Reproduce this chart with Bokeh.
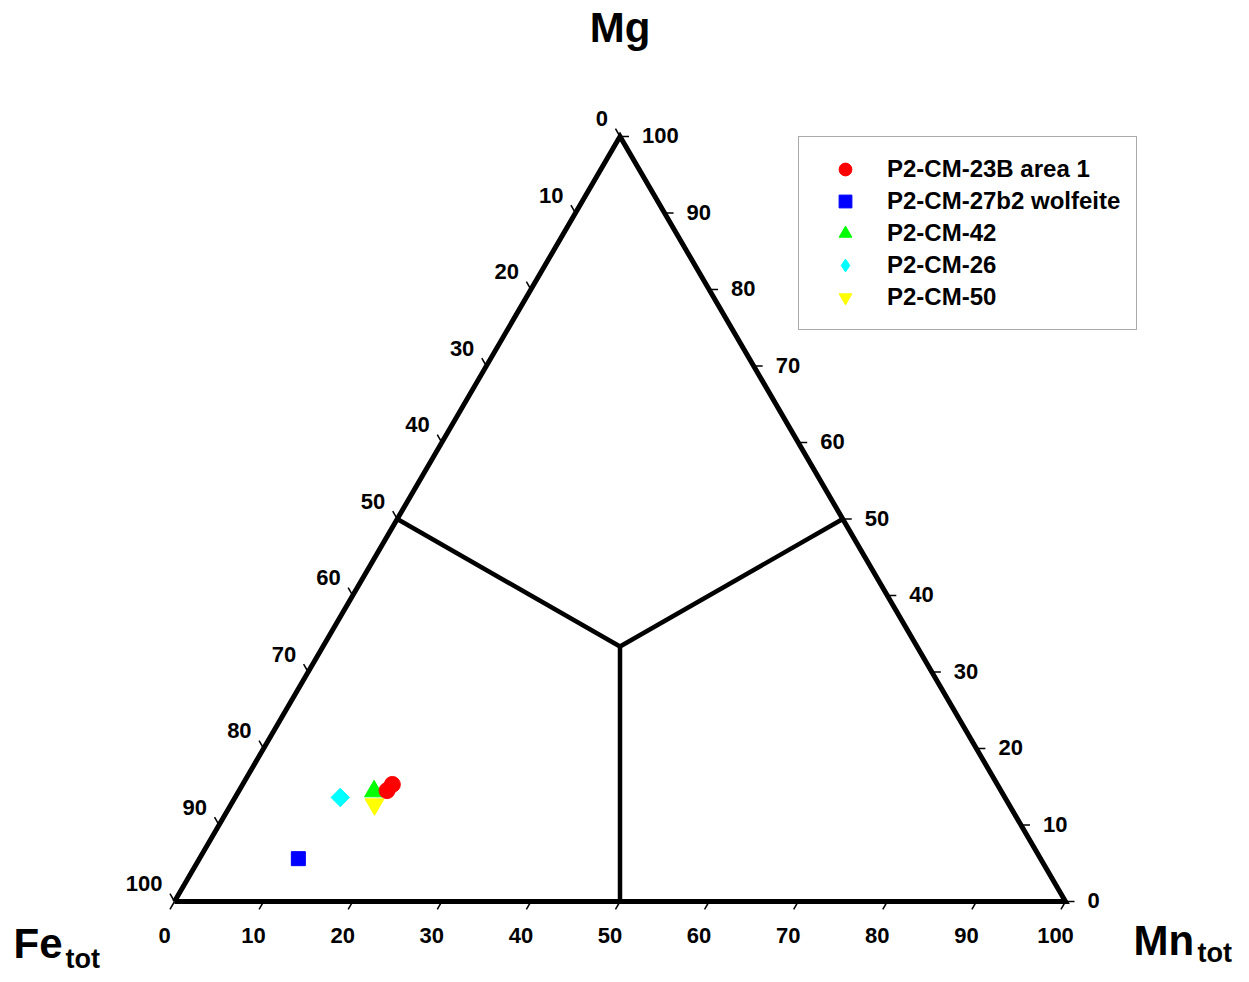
import numpy as np
from bokeh.plotting import figure
from bokeh.models import Legend, LegendItem, Range1d
from bokeh.core.properties import value
from bokeh.embed import file_html
from bokeh.resources import INLINE

# ---------------- data (Fe, Mn, Mg in %) ----------------
series_names = ["P2-CM-23B area 1", "P2-CM-27b2 wolfeite", "P2-CM-42", "P2-CM-26", "P2-CM-50"]
series_colors = ["#FF0000", "#0000FF", "#00FF00", "#00FFFF", "#FFFF00"]

fe_23b = [67.9, 68.9]
mn_23b = [16.8, 16.6]
mg_23b = [15.3, 14.5]

fe_27b2 = [83.3]
mn_27b2 = [11.1]
mg_27b2 = [5.6]

fe_42 = [70.4]
mn_42 = [15.2]
mg_42 = [14.4]

fe_26 = [74.6]
mn_26 = [11.8]
mg_26 = [13.6]

fe_50 = [71.2]
mn_50 = [16.1]
mg_50 = [12.7]

tick_values = [0, 10, 20, 30, 40, 50, 60, 70, 80, 90, 100]
tick_labels = [str(t) for t in tick_values]
title_main = ["Fe", "Mn", "Mg"]
title_sub = "tot"

FONT = value("Liberation Sans")
R3 = np.sqrt(3) / 2


def tern(fe, mn, mg):
    fe = np.asarray(fe, float)
    mn = np.asarray(mn, float)
    mg = np.asarray(mg, float)
    s = fe + mn + mg
    x = 100 * (mn + mg / 2) / s
    y = 100 * mg * R3 / s
    return x, y


# pixel layout of the triangle
W, H = 1249, 982
PXL, PXR, PYB, PYT = 174, 1065, 901, 136
sx = (PXR - PXL) / 100.0
sy = (PYB - PYT) / (100 * R3)

p = figure(width=W, height=H, output_backend="svg", toolbar_location=None,
           x_range=Range1d(-PXL / sx, (W - PXL) / sx),
           y_range=Range1d(-(H - PYB) / sy, PYB / sy),
           min_border=0, x_axis_location=None, y_axis_location=None,
           outline_line_color=None, background_fill_color="white",
           border_fill_color="white")
p.xgrid.visible = False
p.ygrid.visible = False

# triangle frame
vx, vy = tern([100, 0, 0, 100], [0, 100, 0, 0], [0, 0, 100, 0])
p.line(vx, vy, line_color="black", line_width=5, line_join="miter")

# inner boundary lines (centroid to edge midpoints)
cx, cy = tern([1 / 3] * 3, [1 / 3] * 3, [1 / 3] * 3)
mx, my = tern([50, 0, 50], [0, 50, 50], [50, 50, 0])
p.segment(x0=cx, y0=cy, x1=mx, y1=my, line_color="black", line_width=4.5)

t = np.array(tick_values, float)
zero = np.zeros_like(t)
ang_left_edge = np.degrees(np.arctan2(PYB - PYT, (PXR - PXL) / 2))

# bottom axis (Mn)
bx, by = tern(100 - t, t, zero)
p.ray(x=bx, y=by, length=9, length_units="screen", angle=ang_left_edge + 180,
      angle_units="deg", line_color="black", line_width=1.5)
p.text(x=bx, y=by, text=tick_labels, x_offset=-10, y_offset=34,
       text_align="center", text_baseline="middle", text_font=FONT,
       text_font_style="bold", text_font_size="22px", text_color="black")

# left axis (Fe)
lx, ly = tern(t, zero, 100 - t)
p.ray(x=lx, y=ly, length=9, length_units="screen", angle=180 - ang_left_edge,
      angle_units="deg", line_color="black", line_width=1.5)
p.text(x=lx, y=ly, text=tick_labels, x_offset=-12, y_offset=-18,
       text_align="right", text_baseline="middle", text_font=FONT,
       text_font_style="bold", text_font_size="22px", text_color="black")

# right axis (Mg)
rx, ry = tern(zero, 100 - t, t)
p.ray(x=rx, y=ry, length=9, length_units="screen", angle=0,
      angle_units="deg", line_color="black", line_width=1.5)
p.text(x=rx, y=ry, text=tick_labels, x_offset=22, y_offset=-1,
       text_align="left", text_baseline="middle", text_font=FONT,
       text_font_style="bold", text_font_size="22px", text_color="black")

# axis titles
p.text(x=[vx[0]], y=[vy[0]], text=[title_main[0]], x_offset=-161, y_offset=42,
       text_align="left", text_baseline="alphabetic", text_font=FONT,
       text_font_style="bold", text_font_size="42px")
p.text(x=[vx[0]], y=[vy[0]], text=[title_sub], x_offset=-109, y_offset=57,
       text_align="left", text_baseline="alphabetic", text_font=FONT,
       text_font_style="bold", text_font_size="27px")
p.text(x=[vx[1]], y=[vy[1]], text=[title_main[1]], x_offset=68, y_offset=39,
       text_align="left", text_baseline="alphabetic", text_font=FONT,
       text_font_style="bold", text_font_size="42px")
p.text(x=[vx[1]], y=[vy[1]], text=[title_sub], x_offset=132, y_offset=51,
       text_align="left", text_baseline="alphabetic", text_font=FONT,
       text_font_style="bold", text_font_size="27px")
p.text(x=[vx[2]], y=[vy[2]], text=[title_main[2]], x_offset=0, y_offset=-109,
       text_align="center", text_baseline="alphabetic", text_font=FONT,
       text_font_style="bold", text_font_size="42px")

# data points
x, y = tern(fe_50, mn_50, mg_50)
r_50 = p.scatter(x, y, marker="inverted_triangle", size=19, fill_color=series_colors[4],
                 line_color=series_colors[4])
x26, y26 = tern(fe_26, mn_26, mg_26)
p.scatter(x26, y26, marker="square", angle=np.pi / 4, size=13, fill_color=series_colors[3],
          line_color=series_colors[3])
# diamond glyph for the legend entry (size 0 in the plot; legend sets its own size)
r_26 = p.scatter(x26, y26, marker="diamond", size=0, fill_color=series_colors[3],
                 line_color=series_colors[3])
x, y = tern(fe_27b2, mn_27b2, mg_27b2)
r_27 = p.scatter(x, y, marker="square", size=14, fill_color=series_colors[1],
                 line_color=series_colors[1])
x, y = tern(fe_42, mn_42, mg_42)
r_42 = p.scatter(x, y, marker="triangle", size=19, fill_color=series_colors[2],
                 line_color=series_colors[2])
x, y = tern(fe_23b, mn_23b, mg_23b)
r_23 = p.scatter(x, y, marker="circle", size=16, fill_color=series_colors[0],
                 line_color=series_colors[0])

legend = Legend(items=[
    LegendItem(label=series_names[0], renderers=[r_23]),
    LegendItem(label=series_names[1], renderers=[r_27]),
    LegendItem(label=series_names[2], renderers=[r_42]),
    LegendItem(label=series_names[3], renderers=[r_26]),
    LegendItem(label=series_names[4], renderers=[r_50]),
], location=(798, H - 330))
legend.margin = 0
legend.padding = 16
legend.spacing = 0
legend.glyph_width = 60
legend.glyph_height = 32
legend.label_height = 32
legend.label_standoff = 12
legend.label_text_font = "Liberation Sans"
legend.label_text_font_style = "bold"
legend.label_text_font_size = "24px"
legend.label_text_color = "black"
legend.border_line_color = "#555555"
legend.border_line_width = 1.5
legend.background_fill_color = "white"
legend.background_fill_alpha = 1.0
p.add_layout(legend)

open("out.html", "w").write(file_html(p, INLINE))
